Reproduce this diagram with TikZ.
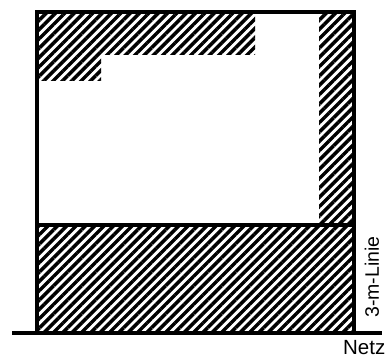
\documentclass[tikz,border=0pt]{standalone}
\usepackage{fontspec}
\setmainfont{Liberation Sans}
\usepackage{tikz}
\usetikzlibrary{positioning,patterns.meta}

\begin{document}
\begin{tikzpicture}[x=1pt,y=1pt,
  hatch/.style={pattern={Lines[angle=45,distance=6.6pt,line width=3.5pt]}},
  wall/.style={line width=3.1pt,line cap=rect},
  lbl/.style={font=\fontsize{19.5}{19.5}\selectfont,inner sep=0pt}]
\useasboundingbox (0,0) rectangle (385,358);
% hatched zones: top-left L, right strip, bottom band
\fill[hatch] (37,346) -- (255,346) -- (255,303) -- (101,303) -- (101,277) -- (37,277) -- cycle;
\fill[hatch] (319,133) rectangle (354,346);
\fill[hatch] (37,25) rectangle (354,133);
% plot outline and 3-m line
\coordinate (sw) at (37,25);
\coordinate (nw) at (37,346);
\coordinate (ne) at (354,346);
\coordinate (se) at (354,25);
\draw[wall] (sw) -- (nw) -- (ne) -- (se);
\draw[wall] (37,133) coordinate (lw) -- (354,133) coordinate (le);
% network line
\coordinate (netzL) at (12,25);
\coordinate (netzR) at (382,25);
\draw[wall,line cap=butt] (netzL) -- (netzR);
\node[lbl,rotate=90] (linie) at (372,81) {3-m-Linie};
\node[lbl,font=\fontsize{20.5}{20.5}\selectfont,anchor=east] (netz) at (385.5,10) {Netz};
\end{tikzpicture}
\end{document}
